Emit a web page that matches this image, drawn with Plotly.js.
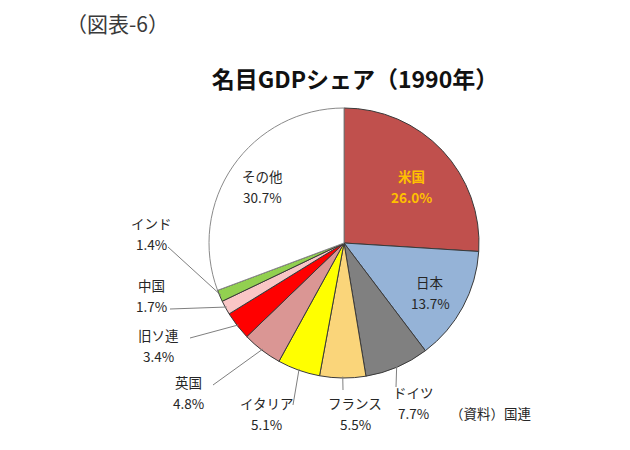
<!DOCTYPE html>
<html>
<head>
<meta charset="utf-8">
<script src="https://cdn.plot.ly/plotly-3.0.1.min.js"></script>
<style>html,body{margin:0;padding:0;background:#fff;}</style>
</head>
<body>
<div id="chart" style="width:630px;height:450px;"></div>
<script>
// Data (1990 nominal GDP share, %)
const countries = ['米国', '日本', 'ドイツ', 'フランス', 'イタリア', '英国', '旧ソ連', '中国', 'インド', 'その他'];
const shares = [26.0, 13.7, 7.7, 5.5, 5.1, 4.8, 3.4, 1.7, 1.4, 30.7];
const colors = ['#C0504D', '#95B3D7', '#808080', '#FAD57A', '#FFFF00', '#DA9694', '#FF0000', '#F9C6C6', '#92D050', '#FFFFFF'];
const lineColors = ['#3a3a3a', '#3a3a3a', '#3a3a3a', '#3a3a3a', '#3a3a3a', '#3a3a3a', '#3a3a3a', '#3a3a3a', '#3a3a3a', '#8a8a8a'];

const W = 630, H = 450;
const cx = 344, cy = 243, R = 135;
const px = x => x / W;
const py = y => 1 - y / H;

// label layout (pixel centres of the name line) per category
const labelPos = {
  '米国':   {x: 411, y: 176, color: '#FFC000', bold: true},
  '日本':   {x: 430, y: 282},
  'ドイツ': {x: 413, y: 392},
  'フランス': {x: 355, y: 403},
  'イタリア': {x: 266, y: 403},
  '英国':   {x: 188, y: 382},
  '旧ソ連': {x: 158, y: 335},
  '中国':   {x: 151, y: 285},
  'インド': {x: 151, y: 223},
  'その他': {x: 262, y: 176}
};
const lineGap = 21;
// leader line starting points (pixel) for outside labels
const leaderStart = {
  'ドイツ': [396, 387],
  'フランス': [343, 390],
  'イタリア': [293, 405],
  '英国': [213, 385],
  '旧ソ連': [190, 338],
  '中国': [170, 309],
  'インド': [168, 247]
};

const total = shares.reduce((a, b) => a + b, 0);
const annotations = [];
const shapes = [];
let cum = 0;
countries.forEach((c, i) => {
  const mid = (cum + shares[i] / 2) / total * 2 * Math.PI;
  cum += shares[i];
  const lp = labelPos[c];
  const f = {family: 'Noto Sans CJK JP, sans-serif', size: 13.5, color: lp.color || '#262626'};
  const pct = shares[i].toFixed(1) + '%';
  [[lp.bold ? '<b>' + c + '</b>' : c, 0], [lp.bold ? '<b>' + pct + '</b>' : pct, lineGap]].forEach(([t, dy]) => {
    annotations.push({
      xref: 'paper', yref: 'paper', x: px(lp.x), y: py(lp.y + dy),
      xanchor: 'center', yanchor: 'middle', showarrow: false, align: 'center',
      text: t, font: f
    });
  });
  if (leaderStart[c]) {
    const ex = cx + R * 0.99 * Math.sin(mid);
    const ey = cy - R * 0.99 * Math.cos(mid);
    shapes.push({
      type: 'line', xref: 'paper', yref: 'paper',
      x0: px(leaderStart[c][0]), y0: py(leaderStart[c][1]),
      x1: px(ex), y1: py(ey),
      line: {color: '#7f7f7f', width: 1}
    });
  }
});

annotations.push({
  xref: 'paper', yref: 'paper', x: px(64), y: py(23), xanchor: 'left', yanchor: 'middle',
  showarrow: false, text: '（図表-6）',
  font: {family: 'Noto Sans CJK JP, serif', size: 21, color: '#3a3a3a'}
});
annotations.push({
  xref: 'paper', yref: 'paper', x: px(448), y: py(413), xanchor: 'left', yanchor: 'middle',
  showarrow: false, text: '（資料）国連',
  font: {family: 'Noto Sans CJK JP, sans-serif', size: 13.5, color: '#262626'}
});

const trace = {
  type: 'pie',
  labels: countries,
  values: shares,
  sort: false,
  direction: 'clockwise',
  rotation: 0,
  textinfo: 'none',
  hoverinfo: 'label+percent',
  marker: {colors: colors, line: {color: lineColors, width: 1}},
  domain: {x: [px(cx - R), px(cx + R)], y: [py(cy + R), py(cy - R)]},
  showlegend: false
};

const layout = {
  width: W, height: H,
  margin: {l: 0, r: 0, t: 0, b: 0},
  paper_bgcolor: '#ffffff',
  title: {
    text: '<b>名目GDPシェア（1990年）</b>',
    x: px(355), y: py(80), xanchor: 'center', yanchor: 'middle', xref: 'paper', yref: 'paper',
    font: {family: 'Noto Sans CJK JP, sans-serif', size: 23, color: '#111111'}
  },
  annotations: annotations,
  shapes: shapes,
  showlegend: false
};

Plotly.newPlot('chart', [trace], layout, {displayModeBar: false, staticPlot: true});
</script>
</body>
</html>
